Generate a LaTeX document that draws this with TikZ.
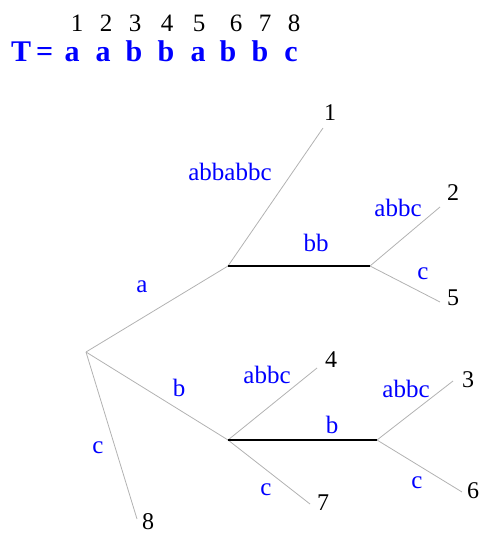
\documentclass[tikz,border=0pt]{standalone}
\usepackage{fontspec}
\setmainfont{Liberation Serif}

\begin{document}
\begin{tikzpicture}[x=1pt, y=-1pt,
  branch/.style={gray!60, line width=0.8pt},
  heavy/.style={black, line width=2.2pt},
  edgelbl/.style={text=blue, inner sep=0pt, font=\fontsize{25}{25}\selectfont},
  leafnum/.style={inner sep=0pt, font=\fontsize{24}{24}\selectfont},
  strchar/.style={text=blue, inner sep=0pt, anchor=base, font=\fontsize{30}{30}\selectfont\bfseries},
  strpos/.style={inner sep=0pt, anchor=base, font=\fontsize{25}{25}\selectfont}]
  \useasboundingbox (0,0) rectangle (481,534);

  % The string T and its positions
  \node[strchar, anchor=base west] (tname) at (11,62) {T\,=};
  \foreach \ch/\cx/\nx [count=\i] in {a/72/77, a/103/106, b/134/135, b/166/167,
      a/198/199, b/228/236, b/260/265, c/291/294} {
    \node[strchar] (t\i) at (\cx,62) {\ch};
    \node[strpos] (p\i) at (\nx,32) {\i};
  }

  % Internal nodes
  \coordinate (root) at (86,352);
  \coordinate (ua) at (228,266);
  \coordinate (ub) at (370,266);
  \coordinate (la) at (228,440);
  \coordinate (lb) at (377,440);

  % Leaf ends and leaf numbers
  \coordinate (e1) at (323,128); \node[leafnum] (l1) at (330,113) {1};
  \coordinate (e2) at (440,207); \node[leafnum] (l2) at (453,193) {2};
  \coordinate (e5) at (440,302); \node[leafnum] (l5) at (453,298) {5};
  \coordinate (e4) at (317,368); \node[leafnum] (l4) at (331,360) {4};
  \coordinate (e3) at (453,381); \node[leafnum] (l3) at (468,380) {3};
  \coordinate (e6) at (462,492); \node[leafnum] (l6) at (473,491) {6};
  \coordinate (e7) at (310,504); \node[leafnum] (l7) at (323,503) {7};
  \coordinate (e8) at (137,519); \node[leafnum, anchor=base] (l8) at (148,529) {8};

  % Edges
  \draw[branch] (root) -- (ua);
  \draw[branch] (root) -- (la);
  \draw[branch] (root) -- (e8);
  \draw[branch] (ua) -- (e1);
  \draw[branch] (ub) -- (e2);
  \draw[branch] (ub) -- (e5);
  \draw[branch] (la) -- (e4);
  \draw[branch] (la) -- (e7);
  \draw[branch] (lb) -- (e3);
  \draw[branch] (lb) -- (e6);
  \draw[heavy] (ua) -- (ub);
  \draw[heavy] (la) -- (lb);

  % Edge labels
  \node[edgelbl] (sa) at (142,287) {a};
  \node[edgelbl] (sb) at (179,388) {b};
  \node[edgelbl] (sc) at (98,448) {c};
  \node[edgelbl] (s1) at (230,172) {abbabbc};
  \node[edgelbl] (sbb) at (316,243) {bb};
  \node[edgelbl] (s2) at (398,208) {abbc};
  \node[edgelbl] (s5) at (423,274) {c};
  \node[edgelbl] (s4) at (267,375) {abbc};
  \node[edgelbl] (s7) at (266,490) {c};
  \node[edgelbl] (slb) at (332,425) {b};
  \node[edgelbl] (s3) at (406,389) {abbc};
  \node[edgelbl] (s6) at (417,483) {c};

\end{tikzpicture}
\end{document}
